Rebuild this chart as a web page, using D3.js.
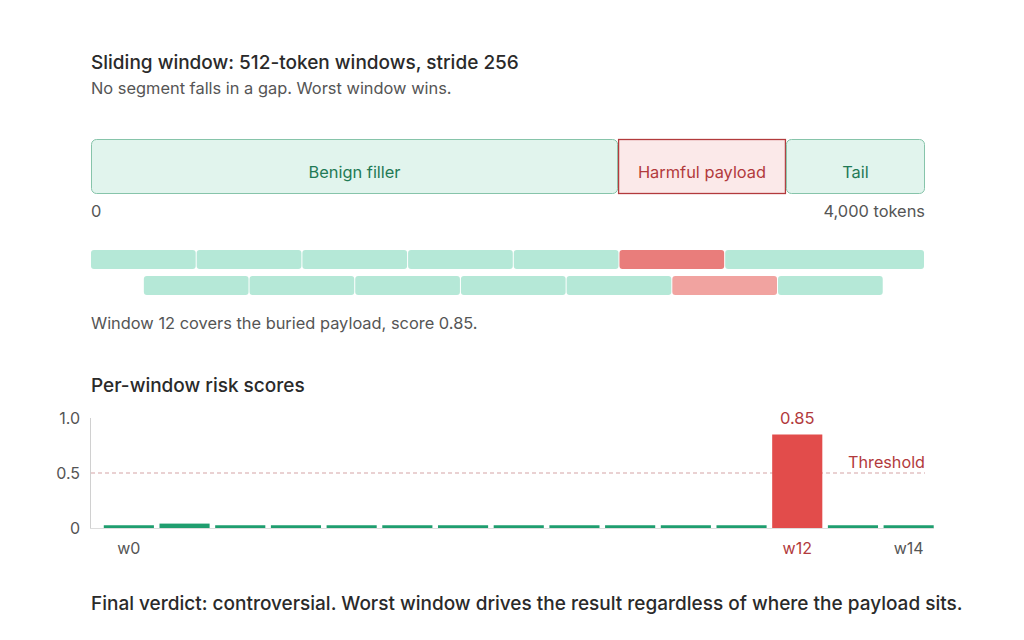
<!DOCTYPE html>
<html>
<head>
<meta charset="utf-8">
<script src="https://cdn.jsdelivr.net/npm/d3@7"></script>
<style>
  html, body { margin: 0; padding: 0; background: #ffffff; }
  svg { display: block; font-family: Inter, "Noto Sans", sans-serif; }
</style>
</head>
<body>
<svg id="chart" width="1024" height="640"></svg>
<script>
// ---------- data ----------
const titleText = "Sliding window: 512-token windows, stride 256";
const subtitleText = "No segment falls in a gap. Worst window wins.";
const noteText = "Window 12 covers the buried payload, score 0.85.";
const scoresTitle = "Per-window risk scores";
const footerText = "Final verdict: controversial. Worst window drives the result regardless of where the payload sits.";

const segmentNames = ["Benign filler", "Harmful payload", "Tail"];
const segmentStarts = [0, 2528, 3333];
const segmentEnds = [2528, 3333, 4000];
const segmentHarmful = [false, true, false];
const tokenTotal = 4000;
const tokenEndLabels = ["0", "4,000 tokens"];

// window strip: two staggered rows
const windowStarts = [0, 512, 1024, 1536, 2048, 2560, 3072, 256, 768, 1280, 1792, 2304, 2816, 3328];
const windowEnds   = [512, 1024, 1536, 2048, 2560, 3072, 4040, 768, 1280, 1792, 2304, 2816, 3328, 3840];
const windowRow    = [0, 0, 0, 0, 0, 0, 0, 1, 1, 1, 1, 1, 1, 1];
const windowKind   = ["ok","ok","ok","ok","ok","hit","ok","ok","ok","ok","ok","ok","near","ok"];
const windowDomainMax = 4040;

const windowNames = ["w0","w1","w2","w3","w4","w5","w6","w7","w8","w9","w10","w11","w12","w13","w14"];
const windowScores = [0.025, 0.04, 0.025, 0.025, 0.025, 0.025, 0.025, 0.025, 0.025, 0.025, 0.025, 0.025, 0.85, 0.025, 0.025];
const shownTicks = ["w0", "w12", "w14"];
const yTicks = [0, 0.5, 1.0];
const yTickLabels = ["0", "0.5", "1.0"];
const threshold = 0.5;
const worstIndex = 12;

// ---------- drawing ----------
const svg = d3.select("#chart");
const left = 91, right = 925;

const dark = "#2a2a2a", grey = "#555555";
const greenText = "#1f7a55", redText = "#b23a3c";
const bodySize = 16.4;

svg.append("text").attr("x", left).attr("y", 69)
  .attr("font-size", 19).attr("font-weight", 500).attr("fill", dark).text(titleText);
svg.append("text").attr("x", left).attr("y", 94)
  .attr("font-size", bodySize).attr("fill", grey).text(subtitleText);

// segment bar
const xTok = d3.scaleLinear().domain([0, tokenTotal]).range([left, right]);
const segTop = 139, segH = 55;
const segs = segmentNames.map((n, i) => ({ name: n, s: segmentStarts[i], e: segmentEnds[i], bad: segmentHarmful[i] }));
const sg = svg.append("g");
sg.selectAll("rect").data(segs).join("rect")
  .attr("x", d => xTok(d.s) + 0.5)
  .attr("y", segTop + 0.5)
  .attr("width", d => xTok(d.e) - xTok(d.s) - 1)
  .attr("height", segH - 1)
  .attr("rx", d => d.bad ? 0 : 5)
  .attr("fill", d => d.bad ? "#fbe9e9" : "#e1f4ed")
  .attr("stroke", d => d.bad ? "#b23a3c" : "#86c4aa")
  .attr("stroke-width", d => d.bad ? 1.3 : 1);
sg.selectAll("text").data(segs).join("text")
  .attr("x", d => (xTok(d.s) + xTok(d.e)) / 2)
  .attr("y", 178)
  .attr("text-anchor", "middle")
  .attr("font-size", bodySize)
  .attr("fill", d => d.bad ? redText : greenText)
  .text(d => d.name);

svg.append("text").attr("x", left).attr("y", 217).attr("font-size", bodySize).attr("fill", grey).text(tokenEndLabels[0]);
svg.append("text").attr("x", right).attr("y", 217).attr("text-anchor", "end").attr("font-size", bodySize).attr("fill", grey).text(tokenEndLabels[1]);

// window strip
const xWin = d3.scaleLinear().domain([0, windowDomainMax]).range([left, right]);
const rowY = [250, 276], rowH = 19;
const wins = windowStarts.map((s, i) => ({ s, e: windowEnds[i], row: windowRow[i], kind: windowKind[i] }));
const winColor = { ok: "#b5e8d7", hit: "#e97d7b", near: "#f1a3a0" };
svg.append("g").selectAll("rect").data(wins).join("rect")
  .attr("x", d => xWin(d.s))
  .attr("y", d => rowY[d.row])
  .attr("width", d => xWin(d.e) - xWin(d.s) - 1)
  .attr("height", rowH)
  .attr("rx", 3)
  .attr("fill", d => winColor[d.kind]);

svg.append("text").attr("x", left).attr("y", 329).attr("font-size", bodySize).attr("fill", grey).text(noteText);

svg.append("text").attr("x", left).attr("y", 392)
  .attr("font-size", 19).attr("font-weight", 500).attr("fill", dark).text(scoresTitle);

// bar chart
const y = d3.scaleLinear().domain([0, 1]).range([528, 418]);
const xb = d3.scaleBand().domain(windowNames).range([101, 936.5]).paddingInner(0.1).paddingOuter(0.05);

// y axis line
svg.append("line").attr("x1", 90.5).attr("x2", 90.5).attr("y1", y(1)).attr("y2", y(0))
  .attr("stroke", "#d0d0d0").attr("stroke-width", 1);
// baseline
svg.append("line").attr("x1", 90).attr("x2", 934).attr("y1", y(0) + 0.5).attr("y2", y(0) + 0.5)
  .attr("stroke", "#dddddd").attr("stroke-width", 1);

// y tick labels
svg.append("g").selectAll("text").data(yTicks).join("text")
  .attr("x", 80).attr("y", d => y(d) + 6)
  .attr("text-anchor", "end").attr("font-size", 16).attr("fill", grey)
  .text((d, i) => yTickLabels[i]);

// threshold
svg.append("line").attr("x1", left).attr("x2", right).attr("y1", y(threshold)).attr("y2", y(threshold))
  .attr("stroke", "#d4a3a5").attr("stroke-width", 1).attr("stroke-dasharray", "4,3");
svg.append("text").attr("x", right).attr("y", y(threshold) - 5).attr("text-anchor", "end")
  .attr("font-size", 16.2).attr("fill", redText).text("Threshold");

// bars
const bars = windowNames.map((n, i) => ({ n, v: windowScores[i], worst: i === worstIndex }));
svg.append("g").selectAll("rect").data(bars).join("rect")
  .attr("x", d => xb(d.n))
  .attr("y", d => y(d.v))
  .attr("width", xb.bandwidth())
  .attr("height", d => y(0) - y(d.v))
  .attr("fill", d => d.worst ? "#e24c4b" : "#1f9e6f");

// value label
svg.append("text").attr("x", xb(windowNames[worstIndex]) + xb.bandwidth() / 2)
  .attr("y", y(windowScores[worstIndex]) - 11)
  .attr("text-anchor", "middle").attr("font-size", 16.5).attr("fill", redText)
  .text(windowScores[worstIndex].toFixed(2));

// x tick labels
svg.append("g").selectAll("text").data(shownTicks).join("text")
  .attr("x", d => xb(d) + xb.bandwidth() / 2)
  .attr("y", 554)
  .attr("text-anchor", "middle").attr("font-size", 16)
  .attr("fill", d => d === windowNames[worstIndex] ? redText : grey)
  .text(d => d);

// footer
svg.append("text").attr("x", left).attr("y", 610)
  .attr("font-size", 19).attr("font-weight", 500).attr("fill", dark).text(footerText);
</script>
</body>
</html>
